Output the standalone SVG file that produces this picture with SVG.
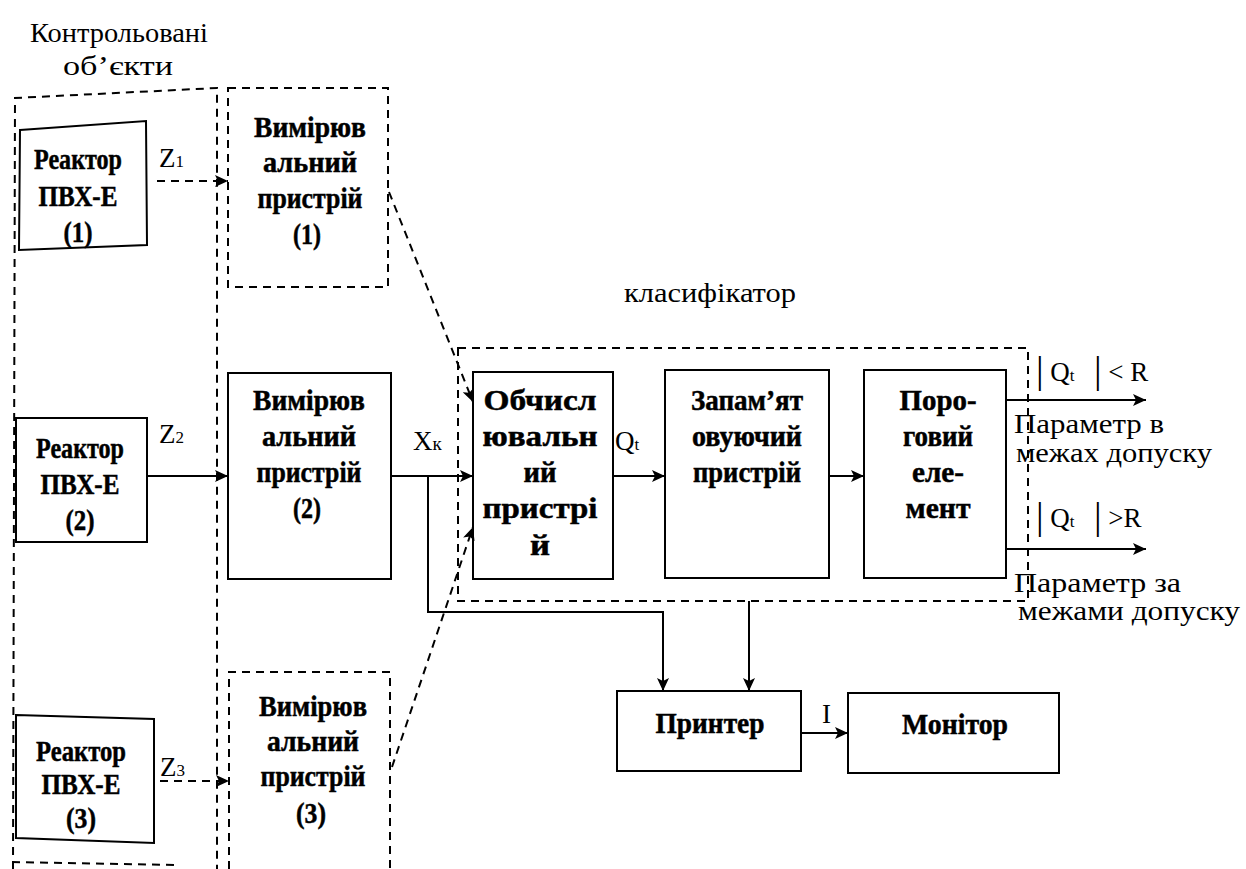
<svg xmlns="http://www.w3.org/2000/svg" width="1246" height="869" viewBox="0 0 1246 869">
<style>
.bg{fill:#fff}
.box{fill:#fff;stroke:#000;stroke-width:2}
.dbox{fill:none;stroke:#000;stroke-width:2;stroke-dasharray:8 6}
.ln{fill:none;stroke:#000;stroke-width:2}
.dl{fill:none;stroke:#000;stroke-width:2;stroke-dasharray:8 6}
.b{font-family:"Liberation Serif","DejaVu Serif",serif;font-weight:bold;font-size:30px;text-anchor:middle;fill:#000;stroke:#000;stroke-width:0.5}
.r{font-family:"Liberation Serif","DejaVu Serif",serif;font-size:27px;fill:#000}
.lab{font-family:"Liberation Serif","DejaVu Serif",serif;font-size:27px;fill:#000}
</style>
<defs>
<marker id="ah" markerWidth="14" markerHeight="12" refX="13" refY="6" orient="auto" markerUnits="userSpaceOnUse">
<path d="M0,0 L13,6 L0,12 L3,6 z" fill="#000"/>
</marker>
</defs>
<rect class="bg" x="0" y="0" width="1246" height="869"/>

<g id="title-objects">
<text class="r" x="30" y="42" textLength="178" lengthAdjust="spacingAndGlyphs" font-size="27">Контрольовані</text>
<text class="r" x="63" y="75" textLength="110" lengthAdjust="spacingAndGlyphs" font-size="27">об’єкти</text>
<path class="dl" d="M13,869 L15,98 L217,88 L217,869"/>
<path class="dl" d="M12,862 L180,865"/>
</g>

<g id="reactor1">
<polygon class="box" points="20,130 146,121 147,245 19,250"/>
<text class="b" x="78" y="169" textLength="88" lengthAdjust="spacingAndGlyphs">Реактор</text>
<text class="b" x="78" y="206" textLength="79" lengthAdjust="spacingAndGlyphs">ПВХ-Е</text>
<text class="b" x="78" y="242" textLength="29" lengthAdjust="spacingAndGlyphs">(1)</text>
</g>

<g id="reactor2">
<rect class="box" x="16" y="418" width="131" height="124"/>
<text class="b" x="80" y="458" textLength="88" lengthAdjust="spacingAndGlyphs">Реактор</text>
<text class="b" x="80" y="494" textLength="79" lengthAdjust="spacingAndGlyphs">ПВХ-Е</text>
<text class="b" x="80" y="530" textLength="29" lengthAdjust="spacingAndGlyphs">(2)</text>
</g>

<g id="reactor3">
<polygon class="box" points="16,715 154,719 154,843 16,838"/>
<text class="b" x="81" y="761" textLength="90" lengthAdjust="spacingAndGlyphs">Реактор</text>
<text class="b" x="81" y="794" textLength="79" lengthAdjust="spacingAndGlyphs">ПВХ-Е</text>
<text class="b" x="81" y="828" textLength="30" lengthAdjust="spacingAndGlyphs">(3)</text>
</g>

<g id="meas1">
<rect class="dbox" x="228" y="88" width="160" height="199"/>
<text class="b" x="310" y="137" textLength="112" lengthAdjust="spacingAndGlyphs">Вимірюв</text>
<text class="b" x="310" y="172" textLength="94" lengthAdjust="spacingAndGlyphs">альний</text>
<text class="b" x="310" y="208" textLength="105" lengthAdjust="spacingAndGlyphs">пристрій</text>
<text class="b" x="307" y="244" textLength="28" lengthAdjust="spacingAndGlyphs">(1)</text>
</g>

<g id="meas2">
<rect class="box" x="228" y="373" width="163" height="206"/>
<text class="b" x="309" y="410" textLength="112" lengthAdjust="spacingAndGlyphs">Вимірюв</text>
<text class="b" x="309" y="446" textLength="94" lengthAdjust="spacingAndGlyphs">альний</text>
<text class="b" x="309" y="482" textLength="105" lengthAdjust="spacingAndGlyphs">пристрій</text>
<text class="b" x="307" y="518" textLength="28" lengthAdjust="spacingAndGlyphs">(2)</text>
</g>

<g id="meas3">
<path class="dbox" d="M229,869 L229,672 L390,672 L390,869"/>
<text class="b" x="313" y="716" textLength="108" lengthAdjust="spacingAndGlyphs">Вимірюв</text>
<text class="b" x="313" y="751" textLength="92" lengthAdjust="spacingAndGlyphs">альний</text>
<text class="b" x="313" y="786" textLength="105" lengthAdjust="spacingAndGlyphs">пристрій</text>
<text class="b" x="311" y="823" textLength="30" lengthAdjust="spacingAndGlyphs">(3)</text>
</g>

<g id="classifier">
<text class="r" x="624" y="302" textLength="172" lengthAdjust="spacingAndGlyphs" font-size="28">класифікатор</text>
<rect class="dbox" x="458" y="348" width="570" height="253"/>
</g>

<g id="compute">
<rect class="box" x="473" y="372" width="140" height="207"/>
<text class="b" x="540" y="410" textLength="113" lengthAdjust="spacingAndGlyphs">Обчисл</text>
<text class="b" x="540" y="446" textLength="115" lengthAdjust="spacingAndGlyphs">ювальн</text>
<text class="b" x="540" y="482" textLength="33" lengthAdjust="spacingAndGlyphs">ий</text>
<text class="b" x="540" y="518" textLength="115" lengthAdjust="spacingAndGlyphs">пристрі</text>
<text class="b" x="540" y="555" textLength="20" lengthAdjust="spacingAndGlyphs">й</text>
</g>

<g id="memory">
<rect class="box" x="665" y="370" width="164" height="208"/>
<text class="b" x="747" y="410" textLength="112" lengthAdjust="spacingAndGlyphs">Запам’ят</text>
<text class="b" x="747" y="446" textLength="110" lengthAdjust="spacingAndGlyphs">овуючий</text>
<text class="b" x="747" y="482" textLength="108" lengthAdjust="spacingAndGlyphs">пристрій</text>
</g>

<g id="threshold">
<rect class="box" x="864" y="370" width="142" height="208"/>
<text class="b" x="938" y="410" textLength="77" lengthAdjust="spacingAndGlyphs">Поро-</text>
<text class="b" x="938" y="446" textLength="70" lengthAdjust="spacingAndGlyphs">говий</text>
<text class="b" x="938" y="482" textLength="52" lengthAdjust="spacingAndGlyphs">еле-</text>
<text class="b" x="938" y="518" textLength="65" lengthAdjust="spacingAndGlyphs">мент</text>
</g>

<g id="printer">
<rect class="box" x="617" y="691" width="184" height="80"/>
<text class="b" x="710" y="733" textLength="109" lengthAdjust="spacingAndGlyphs">Принтер</text>
</g>

<g id="monitor">
<rect class="box" x="848" y="693" width="211" height="80"/>
<text class="b" x="955" y="734" textLength="106" lengthAdjust="spacingAndGlyphs">Монітор</text>
</g>

<g id="connectors">
<path class="dl" d="M157,181 L228,181" marker-end="url(#ah)"/>
<path class="ln" d="M147,476 L228,476" marker-end="url(#ah)"/>
<path class="dl" d="M160,781 L229,781" marker-end="url(#ah)"/>
<path class="ln" d="M391,476 L473,476" marker-end="url(#ah)"/>
<path class="ln" d="M613,476 L665,476" marker-end="url(#ah)"/>
<path class="ln" d="M829,476 L864,476" marker-end="url(#ah)"/>
<path class="ln" d="M1006,400 L1146,400" marker-end="url(#ah)"/>
<path class="ln" d="M1006,549 L1146,549" marker-end="url(#ah)"/>
<path class="ln" d="M428,476 L428,612 L663,612 L663,691" marker-end="url(#ah)"/>
<path class="ln" d="M749,601 L749,691" marker-end="url(#ah)"/>
<path class="ln" d="M801,733 L848,733" marker-end="url(#ah)"/>
<path class="dl" d="M389,192 L473,402" marker-end="url(#ah)"/>
<path class="dl" d="M392,767 L473,527" marker-end="url(#ah)"/>
</g>

<g id="labels">
<text class="lab" x="159" y="167" font-size="25">Z<tspan font-size="17">1</tspan></text>
<text class="lab" x="159" y="443" font-size="25">Z<tspan font-size="17">2</tspan></text>
<text class="lab" x="160" y="776" font-size="25">Z<tspan font-size="17">3</tspan></text>
<text class="lab" x="413" y="450" font-size="28">X<tspan font-size="19">к</tspan></text>
<text class="lab" x="615" y="450" font-size="28">Q<tspan font-size="17">t</tspan></text>
<text class="lab" x="822" y="723" font-size="28">I</text>
<text class="lab" x="1036" y="381" font-size="28"><tspan font-size="38" dy="2">|</tspan><tspan dy="-2"> Q</tspan><tspan font-size="17">t</tspan><tspan x="1094" font-size="38" dy="2">|</tspan><tspan dy="-2"> &lt; R</tspan></text>
<text class="lab" x="1036" y="527" font-size="28"><tspan font-size="38" dy="2">|</tspan><tspan dy="-2"> Q</tspan><tspan font-size="17">t</tspan><tspan x="1094" font-size="38" dy="2">|</tspan><tspan dy="-2"> &gt;R</tspan></text>
<text class="lab" x="1014" y="433" textLength="150" lengthAdjust="spacingAndGlyphs">Параметр в</text>
<text class="lab" x="1016" y="462" textLength="196" lengthAdjust="spacingAndGlyphs">межах допуску</text>
<text class="lab" x="1014" y="592" textLength="167" lengthAdjust="spacingAndGlyphs">Параметр за</text>
<text class="lab" x="1018" y="620" textLength="222" lengthAdjust="spacingAndGlyphs">межами допуску</text>
</g>
</svg>
